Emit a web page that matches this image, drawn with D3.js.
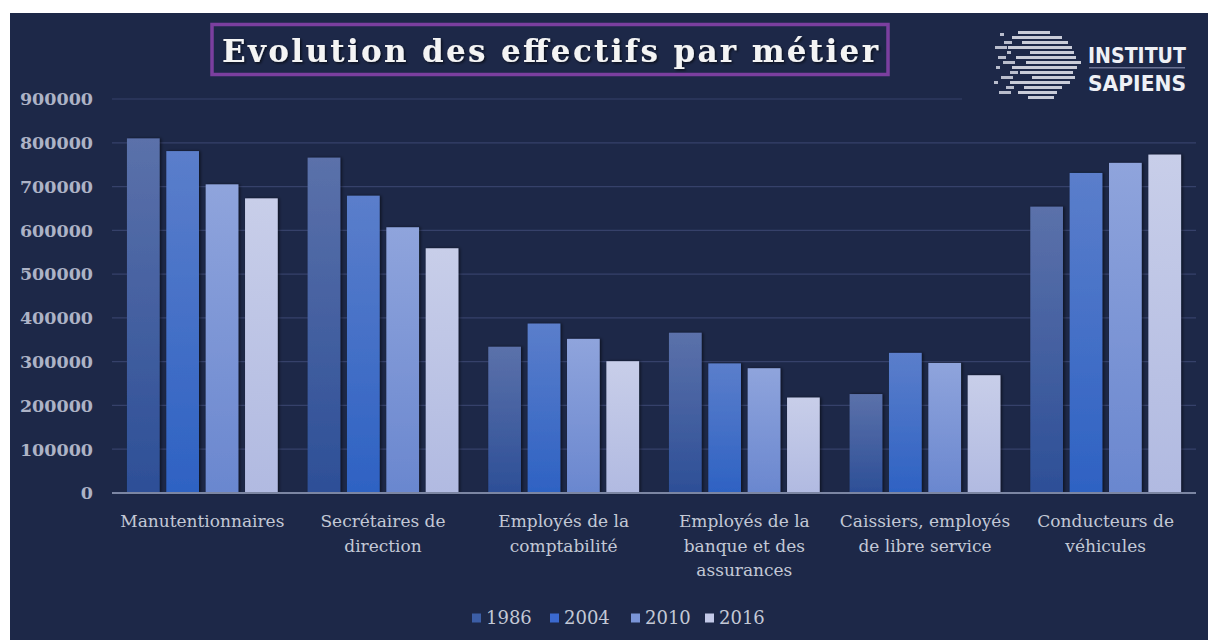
<!DOCTYPE html>
<html>
<head>
<meta charset="utf-8">
<script src="https://cdn.jsdelivr.net/npm/d3@7"></script>
<style>
  body { margin: 0; background: #ffffff; }
  svg { display: block; }
</style>
</head>
<body>
<svg width="1208" height="640"></svg>
<script>
// Data
var categories = ["Manutentionnaires", "Secrétaires de direction", "Employés de la comptabilité",
  "Employés de la banque et des assurances", "Caissiers, employés de libre service", "Conducteurs de véhicules"];
var categoryLines = [
  ["Manutentionnaires"],
  ["Secrétaires de", "direction"],
  ["Employés de la", "comptabilité"],
  ["Employés de la", "banque et des", "assurances"],
  ["Caissiers, employés", "de libre service"],
  ["Conducteurs de", "véhicules"]
];
var years = ["1986", "2004", "2010", "2016"];
var values1986 = [810000, 766000, 334000, 366000, 226000, 654000];
var values2004 = [781000, 679000, 387000, 296000, 320000, 731000];
var values2010 = [705000, 607000, 352000, 285000, 297000, 754000];
var values2016 = [673000, 559000, 301000, 218000, 269000, 773000];
var yTicks = [0, 100000, 200000, 300000, 400000, 500000, 600000, 700000, 800000, 900000];

var seriesValues = [values1986, values2004, values2010, values2016];
var rows = categories.map(function (c, i) {
  return { cat: c, vals: years.map(function (y, j) { return { year: y, value: seriesValues[j][i] }; }) };
});

// gradient top / bottom colours per year, and legend swatches
var gradTop = ["#5b71aa", "#5b7ecb", "#8fa4dc", "#c8cee9"];
var gradBottom = ["#2d4f97", "#2e62c3", "#6a87cf", "#b1bae1"];
var swatch = ["#3c5ea6", "#3b69cf", "#7a95d8", "#c3c9e8"];

var svg = d3.select("svg");
var bg = "#1d2848";

// panel
svg.append("rect").attr("x", 10).attr("y", 13).attr("width", 1198).attr("height", 627).attr("fill", bg);

var defs = svg.append("defs");
years.forEach(function (y, j) {
  var lg = defs.append("linearGradient").attr("id", "g" + y)
    .attr("x1", 0).attr("y1", 0).attr("x2", 0).attr("y2", 1);
  lg.append("stop").attr("offset", "0%").attr("stop-color", gradTop[j]);
  lg.append("stop").attr("offset", "100%").attr("stop-color", gradBottom[j]);
});
var sh = defs.append("filter").attr("id", "shadow").attr("x", "-20%").attr("y", "-5%").attr("width", "140%").attr("height", "110%");
sh.append("feDropShadow").attr("dx", 1.5).attr("dy", 0).attr("stdDeviation", 1.5)
  .attr("flood-color", "#000000").attr("flood-opacity", 0.55);
var tsh = defs.append("filter").attr("id", "tshadow");
tsh.append("feDropShadow").attr("dx", 1.5).attr("dy", 1.5).attr("stdDeviation", 1)
  .attr("flood-color", "#000000").attr("flood-opacity", 0.6);

// scales
var x0 = d3.scaleBand().domain(categories).range([112, 1196]);
var x1 = d3.scaleBand().domain(years).range([0, x0.bandwidth()]).paddingInner(0.17).paddingOuter(0.38);
var y = d3.scaleLinear().domain([0, 900000]).range([493, 99]);

// gridlines
svg.append("g")
  .selectAll("line")
  .data(yTicks.filter(function (t) { return t > 0; }))
  .enter().append("line")
  .attr("x1", 112).attr("x2", 1196)
  .attr("y1", function (d) { return y(d); })
  .attr("y2", function (d) { return y(d); })
  .attr("stroke", "#36416a").attr("stroke-width", 1.2);

// y labels
svg.append("g")
  .selectAll("text")
  .data(yTicks)
  .enter().append("text")
  .attr("x", 93)
  .attr("y", function (d) { return y(d); })
  .attr("dy", "0.36em")
  .attr("text-anchor", "end")
  .attr("font-family", "DejaVu Serif")
  .attr("font-weight", "bold")
  .attr("font-size", 17.5)
  .attr("fill", "#adb3c6")
  .text(function (d) { return d; });

// bars
var groups = svg.append("g")
  .selectAll("g")
  .data(rows)
  .enter().append("g")
  .attr("transform", function (d) { return "translate(" + x0(d.cat) + ",0)"; });

groups.selectAll("rect")
  .data(function (d) { return d.vals; })
  .enter().append("rect")
  .attr("x", function (d) { return x1(d.year); })
  .attr("y", function (d) { return y(d.value); })
  .attr("width", x1.bandwidth())
  .attr("height", function (d) { return y(0) - y(d.value); })
  .attr("fill", function (d) { return "url(#g" + d.year + ")"; })
  .attr("filter", "url(#shadow)");

// baseline
svg.append("line")
  .attr("x1", 112).attr("x2", 1196)
  .attr("y1", y(0)).attr("y2", y(0))
  .attr("stroke", "#7c86a3").attr("stroke-width", 2);

// x labels
var xl = svg.append("g")
  .selectAll("text")
  .data(categories)
  .enter().append("text")
  .attr("x", function (d) { return x0(d) + x0.bandwidth() / 2; })
  .attr("y", 527)
  .attr("text-anchor", "middle")
  .attr("font-family", "DejaVu Serif")
  .attr("font-size", 17)
  .attr("fill", "#c3c8d6");
xl.selectAll("tspan")
  .data(function (d, i) { return categoryLines[i]; })
  .enter().append("tspan")
  .attr("x", function () { var p = d3.select(this.parentNode).datum(); return x0(p) + x0.bandwidth() / 2; })
  .attr("dy", function (d, i) { return i ? 24.5 : 0; })
  .text(function (d) { return d; });

// legend
var legendX = [472, 550, 631, 705];
var leg = svg.append("g")
  .selectAll("g")
  .data(years)
  .enter().append("g")
  .attr("transform", function (d, i) { return "translate(" + legendX[i] + ",618)"; });
leg.append("rect").attr("x", 0).attr("y", -4.5).attr("width", 9).attr("height", 9)
  .attr("fill", function (d, i) { return swatch[i]; });
leg.append("text").attr("x", 14).attr("dy", "0.36em")
  .attr("font-family", "DejaVu Serif").attr("font-size", 18)
  .attr("fill", "#c3c8d6")
  .text(function (d) { return d; });

// title
svg.append("rect").attr("x", 212).attr("y", 24.5).attr("width", 676).attr("height", 50)
  .attr("fill", "none").attr("stroke", "#7b3f9f").attr("stroke-width", 3.5);
svg.append("text")
  .attr("x", 222).attr("y", 62)
  .attr("textLength", 656).attr("lengthAdjust", "spacing")
  .attr("font-family", "DejaVu Serif")
  .attr("font-weight", "bold")
  .attr("font-size", 31)
  .attr("fill", "#f4f4f4")
  .attr("filter", "url(#tshadow)")
  .text("Evolution des effectifs par métier");

// logo (covers the end of the top gridline)
var logo = svg.append("g");
logo.append("rect").attr("x", 962).attr("y", 20).attr("width", 236).attr("height", 88).attr("fill", bg);
var stripeRight = [1050, 1062, 1068, 1072, 1074, 1076, 1081, 1077, 1073, 1075, 1070, 1062, 1057, 1054];
var stripeLeft = [1018, 1012, 1022, 1008, 1030, 1016, 1026, 1012, 1020, 1032, 1010, 1024, 1018, 1028];
logo.selectAll("rect.stripe")
  .data(stripeRight)
  .enter().append("rect")
  .attr("class", "stripe")
  .attr("x", function (d, i) { return stripeLeft[i]; })
  .attr("y", function (d, i) { return 31 + i * 5; })
  .attr("width", function (d, i) { return d - stripeLeft[i]; })
  .attr("height", 3)
  .attr("fill", "#c9ccd8");
var bitsX = [1000, 1004, 995, 1007, 998, 1003, 996, 1010, 1001, 994, 1006, 999];
var bitsY = [33, 41, 46, 51, 56, 61, 66, 71, 76, 81, 86, 91];
logo.selectAll("rect.bit")
  .data(bitsX)
  .enter().append("rect")
  .attr("class", "bit")
  .attr("x", function (d) { return d; })
  .attr("y", function (d, i) { return bitsY[i]; })
  .attr("width", function (d, i) { return 4 + (i % 3) * 4; })
  .attr("height", 3)
  .attr("fill", "#b9bdcc");
logo.append("text").attr("x", 1088).attr("y", 63)
  .attr("textLength", 98).attr("lengthAdjust", "spacingAndGlyphs")
  .attr("font-family", "DejaVu Sans").attr("font-weight", "bold").attr("font-size", 21)
  .attr("fill", "#eef0f5").text("INSTITUT");
logo.append("rect").attr("x", 1089).attr("y", 67).attr("width", 96).attr("height", 1.5).attr("fill", "#6b7394");
logo.append("text").attr("x", 1088).attr("y", 91)
  .attr("textLength", 98).attr("lengthAdjust", "spacingAndGlyphs")
  .attr("font-family", "DejaVu Sans").attr("font-weight", "bold").attr("font-size", 21)
  .attr("fill", "#eef0f5").text("SAPIENS");
</script>
</body>
</html>
